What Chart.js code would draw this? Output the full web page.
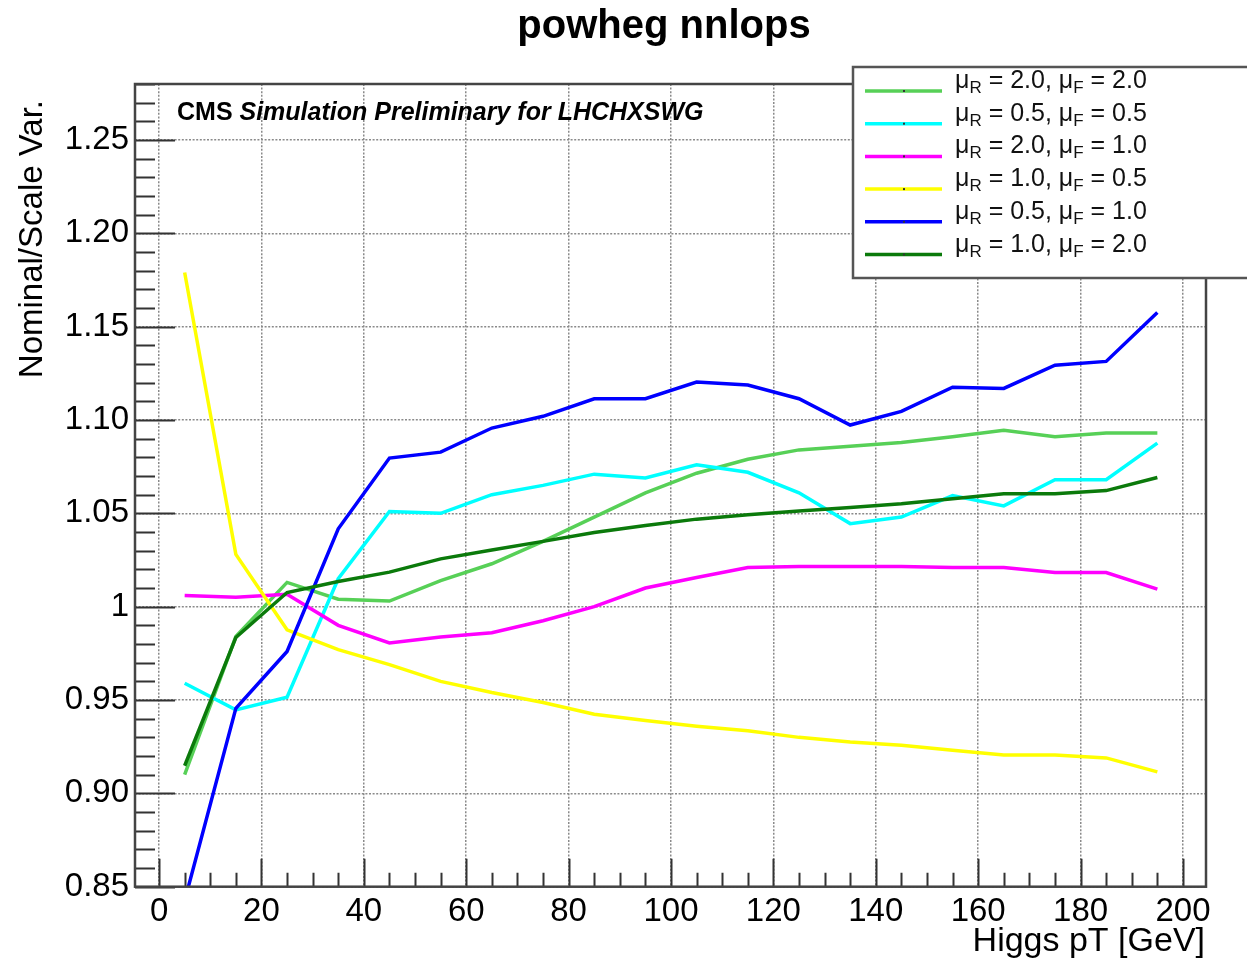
<!DOCTYPE html>
<html>
<head>
<meta charset="utf-8">
<script src="https://cdn.jsdelivr.net/npm/chart.js@4.4.1/dist/chart.umd.min.js"></script>
<style>
  html, body { margin: 0; padding: 0; background: #fff; }
</style>
</head>
<body>
<canvas id="chart" width="1247" height="963"></canvas>
<script>
// bin centres of Higgs pT [GeV]
const ptBins = [5, 15, 25, 35, 45, 55, 65, 75, 85, 95, 105, 115, 125, 135, 145, 155, 165, 175, 185, 195];

// Nominal / scale variation ratios
const muR20muF20 = [0.910, 0.984, 1.013, 1.004, 1.003, 1.014, 1.023, 1.035, 1.048, 1.061, 1.0715, 1.079, 1.084, 1.086, 1.088, 1.091, 1.0945, 1.091, 1.093, 1.093];
const muR05muF05 = [0.959, 0.9447, 0.9515, 1.015, 1.051, 1.050, 1.060, 1.065, 1.071, 1.069, 1.076, 1.072, 1.061, 1.0445, 1.048, 1.0595, 1.054, 1.068, 1.068, 1.0876];
const muR20muF10 = [1.006, 1.005, 1.0067, 0.990, 0.9806, 0.9837, 0.986, 0.9925, 1.000, 1.010, 1.0156, 1.021, 1.0215, 1.0215, 1.0215, 1.021, 1.021, 1.0183, 1.0183, 1.0094];
const muR10muF05 = [1.179, 1.028, 0.9876, 0.977, 0.969, 0.960, 0.954, 0.9487, 0.9424, 0.939, 0.936, 0.9336, 0.930, 0.9275, 0.9258, 0.9231, 0.9206, 0.9206, 0.919, 0.9115];
const muR05muF10 = [0.8425, 0.9456, 0.976, 1.0417, 1.0796, 1.0828, 1.0957, 1.102, 1.1114, 1.1114, 1.1203, 1.1187, 1.1114, 1.0973, 1.1046, 1.1176, 1.1169, 1.1294, 1.1314, 1.1576];
const muR10muF20 = [0.9148, 0.9835, 1.0076, 1.0135, 1.0185, 1.0256, 1.0304, 1.035, 1.0397, 1.0435, 1.0469, 1.0492, 1.0513, 1.0531, 1.0551, 1.0578, 1.0605, 1.0605, 1.0622, 1.0692];

// legend entries (mu_R, mu_F) in legend order
const legendMuR = ["2.0", "0.5", "2.0", "1.0", "0.5", "1.0"];
const legendMuF = ["2.0", "0.5", "1.0", "0.5", "1.0", "2.0"];

// axis ticks
const xTicks = [0, 20, 40, 60, 80, 100, 120, 140, 160, 180, 200];
const yTicks = [0.85, 0.90, 0.95, 1.00, 1.05, 1.10, 1.15, 1.20, 1.25];
const yTickLabels = ["0.85", "0.90", "0.95", "1", "1.05", "1.10", "1.15", "1.20", "1.25"];

const seriesValues = [muR20muF20, muR05muF05, muR20muF10, muR10muF05, muR05muF10, muR10muF20];
const seriesColors = ["#57d057", "#00ffff", "#ff00ff", "#ffff00", "#0000ff", "#0b7a0b"];

const FONT = "'Liberation Sans', Arial, Helvetica, sans-serif";

const datasets = seriesValues.map((vals, i) => ({
  label: "muR = " + legendMuR[i] + ", muF = " + legendMuF[i],
  data: vals.map((v, j) => ({ x: ptBins[j], y: v })),
  borderColor: seriesColors[i],
  backgroundColor: seriesColors[i],
  borderWidth: 3.5,
  pointRadius: 0,
  tension: 0,
  fill: false,
  order: seriesValues.length - 1 - i,
}));

// ROOT style frame, ticks, text and legend
const rootDecor = {
  id: "rootDecor",
  afterDraw(chart) {
    const ctx = chart.ctx;
    const area = chart.chartArea;
    const xs = chart.scales.x;
    const ys = chart.scales.y;

    ctx.save();
    // inward ticks
    ctx.strokeStyle = "#333";
    ctx.lineWidth = 2;
    ctx.beginPath();
    for (let k = 85; k <= 128; k++) {
      const py = Math.round(ys.getPixelForValue(k / 100)) + 0.5;
      const len = k % 5 === 0 ? 40 : 20;
      ctx.moveTo(area.left, py);
      ctx.lineTo(area.left + len, py);
    }
    for (let v = 0; v <= 200; v += 5) {
      const px = Math.round(xs.getPixelForValue(v)) + 0.5;
      const len = v % 20 === 0 ? 28 : 14;
      ctx.moveTo(px, area.bottom);
      ctx.lineTo(px, area.bottom - len);
    }
    ctx.stroke();

    // frame
    ctx.strokeStyle = "#444";
    ctx.lineWidth = 2.5;
    ctx.strokeRect(area.left, area.top, area.right - area.left, area.bottom - area.top);

    // title
    ctx.fillStyle = "#000";
    ctx.textBaseline = "alphabetic";
    ctx.textAlign = "center";
    ctx.font = "bold 40px " + FONT;
    ctx.fillText("powheg nnlops", 664, 38);

    // CMS label
    ctx.textAlign = "left";
    ctx.font = "bold 25px " + FONT;
    ctx.fillText("CMS ", 177, 120);
    const w = ctx.measureText("CMS ").width;
    ctx.font = "italic bold 25px " + FONT;
    ctx.fillText("Simulation Preliminary for LHCHXSWG", 177 + w, 120);

    // axis titles
    ctx.font = "34px " + FONT;
    ctx.textAlign = "right";
    ctx.fillText("Higgs pT [GeV]", 1205, 951);
    ctx.font = "33px " + FONT;
    ctx.save();
    ctx.translate(42, 100);
    ctx.rotate(-Math.PI / 2);
    ctx.fillText("Nominal/Scale Var.", 0, 0);
    ctx.restore();

    // legend box
    const bx = 853, by = 67, bw = 420, bh = 211;
    ctx.fillStyle = "#fff";
    ctx.fillRect(bx, by, bw, bh);
    ctx.strokeStyle = "#555";
    ctx.lineWidth = 2.5;
    ctx.strokeRect(bx, by, bw, bh);

    chart.data.datasets.forEach((ds, i) => {
      const ly = 91 + i * 32.7;
      ctx.strokeStyle = ds.borderColor;
      ctx.lineWidth = 3.5;
      ctx.beginPath();
      ctx.moveTo(865, ly);
      ctx.lineTo(942, ly);
      ctx.stroke();
      ctx.fillStyle = "#333";
      ctx.fillRect(903, ly - 1, 2, 2);

      // mu_R = a, mu_F = b
      ctx.fillStyle = "#111";
      ctx.textAlign = "left";
      let tx = 955;
      const base = ly - 3;
      const parts = [
        ["\u03BC", 25, 0], ["R", 17, 5], [" = " + legendMuR[i] + ", ", 25, 0],
        ["\u03BC", 25, 0], ["F", 17, 5], [" = " + legendMuF[i], 25, 0],
      ];
      parts.forEach(([t, size, dy]) => {
        ctx.font = size + "px " + FONT;
        ctx.fillText(t, tx, base + dy);
        tx += ctx.measureText(t).width;
      });
    });
    ctx.restore();
  },
};

new Chart(document.getElementById("chart"), {
  type: "line",
  data: { datasets },
  options: {
    responsive: false,
    devicePixelRatio: 1,
    animation: false,
    layout: { padding: { left: 0, right: 41, top: 84, bottom: 0 } },
    plugins: {
      legend: { display: false },
      tooltip: { enabled: false },
      title: { display: false },
    },
    scales: {
      x: {
        type: "linear",
        min: -4.7,
        max: 204.5,
        afterBuildTicks: (scale) => { scale.ticks = xTicks.map((v) => ({ value: v })); },
        afterFit: (scale) => { scale.height = 76.3; },
        ticks: {
          color: "#000",
          font: { family: FONT, size: 33 },
          padding: 5,
          maxRotation: 0,
          autoSkip: false,
        },
        grid: { color: "#8a8a8a", lineWidth: 1.5, drawTicks: false },
        border: { display: false, dash: [2, 1.6] },
      },
      y: {
        min: 0.85,
        max: 1.28,
        afterBuildTicks: (scale) => { scale.ticks = yTicks.map((v) => ({ value: v })); },
        afterFit: (scale) => { scale.width = 135; },
        ticks: {
          color: "#000",
          font: { family: FONT, size: 33 },
          padding: 6,
          callback: (v) => yTickLabels[yTicks.findIndex((t) => Math.abs(t - v) < 1e-6)],
        },
        grid: { color: "#8a8a8a", lineWidth: 1.5, drawTicks: false },
        border: { display: false, dash: [2, 1.6] },
      },
    },
  },
  plugins: [rootDecor],
});
</script>
</body>
</html>
